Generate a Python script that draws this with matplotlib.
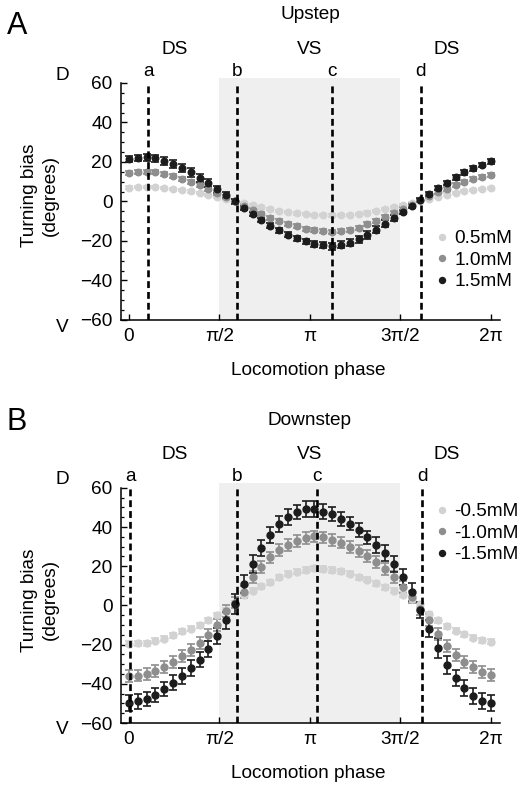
import numpy as np
import matplotlib.pyplot as plt
from matplotlib.ticker import MultipleLocator
from matplotlib.lines import Line2D

plt.rcParams['font.family'] = ['Liberation Sans', 'DejaVu Sans']
plt.rcParams['font.size'] = 13.7

W, H = 525, 790

# locomotion phase bins (42 points from 0 to 2pi)
phase = np.linspace(0, 2 * np.pi, 42)

# Upstep
up_labels = ['0.5mM', '1.0mM', '1.5mM']
up_05 = [7.0, 7.3, 7.4, 7.2, 6.9, 6.4, 5.8, 5.1, 4.3, 3.4, 2.4, 1.3, 0.2, -0.9, -2.0, -3.0, -3.9,
         -4.7, -5.4, -6.0, -6.5, -6.8, -7.0, -7.1, -7.0, -6.7, -6.2, -5.6, -4.8, -3.9, -2.9, -1.8,
         -0.7, 0.4, 1.5, 2.5, 3.5, 4.4, 5.2, 5.9, 6.4, 6.8]
up_10 = [14.4, 14.8, 15.0, 14.7, 14.0, 12.9, 11.6, 10.0, 8.2, 6.2, 4.2, 2.1, 0.0, -2.2, -4.3, -6.3,
         -8.2, -9.9, -11.4, -12.6, -13.7, -14.4, -15.0, -15.3, -15.0, -14.3, -13.2, -11.6, -9.8,
         -7.8, -5.8, -3.7, -1.6, 0.5, 2.6, 4.6, 6.5, 8.3, 10.0, 11.4, 12.6, 13.6]
up_15 = [21.4, 21.9, 22.3, 21.8, 20.6, 19.0, 17.0, 14.8, 12.0, 9.2, 6.2, 3.2, 0.0, -3.3, -6.4, -9.4,
         -12.2, -14.6, -16.8, -18.6, -20.2, -21.3, -22.1, -22.6, -22.0, -20.8, -19.2, -16.8, -14.2,
         -11.2, -8.3, -5.3, -2.3, 0.8, 3.8, 6.7, 9.5, 12.3, 14.7, 16.7, 18.5, 20.3]
up_05_err = [0.6] * 42
up_10_err = [1.0] * 42
up_15_err = [1.5, 1.5, 1.8, 1.8, 2.0, 2.0, 2.2, 2.2, 2.0, 2.0, 1.8, 1.5, 1.5, 1.2, 1.2, 1.2, 1.2,
             1.2, 1.2, 1.2, 1.2, 1.5, 1.5, 1.8, 1.8, 1.8, 1.8, 2.0, 2.0, 1.8, 1.5, 1.2, 1.0, 1.0,
             1.0, 1.0, 1.0, 1.2, 1.2, 1.2, 1.2, 1.2]
up_marks = [0.33, 1.87, 3.53, 5.06]

# Downstep
down_labels = ['-0.5mM', '-1.0mM', '-1.5mM']
down_05 = [-19.5, -19.3, -19.2, -18.1, -16.9, -15.2, -13.2, -11.8, -10.2, -7.6, -5.1, -2.5, 1.0,
           5.1, 7.6, 9.8, 11.8, 14.4, 16.1, 17.3, 18.1, 18.9, 18.6, 18.1, 17.4, 16.1, 14.4, 13.1,
           11.3, 9.3, 7.6, 5.4, 3.4, 0.5, -4.4, -7.6, -10.7, -13.0, -14.7, -16.4, -17.8, -18.6]
down_10 = [-36.0, -35.8, -35.0, -33.5, -31.3, -28.8, -25.9, -22.8, -19.1, -15.2, -9.8, -3.0, 1.5,
           6.8, 14.4, 19.8, 24.5, 28.3, 30.8, 33.0, 34.5, 35.2, 34.7, 33.5, 32.1, 29.9, 27.9, 25.4,
           22.0, 18.6, 14.4, 9.3, 4.2, -1.7, -7.6, -14.7, -20.8, -25.4, -28.8, -31.6, -33.8, -35.5]
down_15 = [-49.9, -49.0, -47.8, -45.6, -42.6, -39.4, -35.9, -31.8, -27.6, -22.3, -15.7, -7.6, 0.8,
           11.0, 21.1, 29.3, 35.9, 41.5, 45.2, 47.7, 49.1, 49.4, 47.9, 46.5, 44.3, 41.8, 38.4, 34.7,
           31.0, 26.6, 21.2, 14.4, 6.8, -2.2, -11.8, -21.6, -30.4, -37.2, -42.3, -46.2, -48.6, -49.9]
down_05_err = [1.3] * 42
down_10_err = [3.0] * 42
down_15_err = [4.0, 4.0, 3.5, 3.5, 3.5, 4.0, 4.0, 4.0, 4.0, 4.0, 4.0, 4.5, 5.0, 4.5, 4.5, 4.0, 4.0,
               4.0, 4.0, 3.5, 4.0, 4.0, 4.0, 3.5, 3.5, 3.5, 3.5, 3.5, 4.0, 4.0, 4.0, 4.0, 4.5, 4.0,
               4.5, 5.0, 4.5, 4.0, 4.0, 4.0, 4.0, 4.0]
down_marks = [0.02, 1.87, 3.26, 5.09]

colors = ['#d2d2d2', '#8e8e8e', '#1c1c1c']
tick_pos = [0, np.pi / 2, np.pi, 3 * np.pi / 2, 2 * np.pi]
tick_lab = ['0', 'π/2', 'π', '3π/2', '2π']


def fx(px):
    return px / W


def fy(py):
    return 1 - py / H


fig = plt.figure(figsize=(W / 100, H / 100), dpi=100)


def panel(top, bottom, series, errs, labels, marks, title, letter, letter_y, leg_y, ms):
    ax = fig.add_axes([fx(121), fy(bottom), fx(500) - fx(121), (bottom - top) / H])
    ax.set_xlim(-0.139, 6.44)
    ax.set_ylim(-60, 62.5)
    ax.axvspan(np.pi / 2, 3 * np.pi / 2, color='#efefef', lw=0, zorder=0)
    for s, e, c in zip(series, errs, colors):
        ax.errorbar(phase, s, yerr=e, fmt='o', color=c, ms=ms, mec=c, ecolor=c,
                    elinewidth=1.2, capsize=3.2, capthick=1.2, zorder=3)
    for x, t in zip(marks, 'abcd'):
        ax.vlines(x, -60, 60, colors='black', linestyles=(0, (2.6, 1.5)), lw=1.9, zorder=5)
        ax.text(x, 66, t, ha='center', va='center', clip_on=False)
    ax.text(0.8, 77.0, 'DS', ha='center', va='center')
    ax.text(np.pi, 77.0, 'VS', ha='center', va='center')
    ax.text(5.52, 77.0, 'DS', ha='center', va='center')
    ax.text(np.pi, 94.4, title, ha='center', va='center')

    for side in ['top', 'right']:
        ax.spines[side].set_visible(False)
    ax.spines['left'].set_bounds(-60, 60)
    ax.spines['left'].set_linewidth(1.1)
    ax.spines['bottom'].set_linewidth(1.1)
    ax.set_yticks(range(-60, 61, 20))
    ax.set_yticklabels(['\u221260', '\u221240', '\u221220', '0', '20', '40', '60'])
    ax.yaxis.set_minor_locator(MultipleLocator(5))
    ax.set_xticks(tick_pos)
    ax.set_xticklabels(tick_lab)
    ax.tick_params(which='major', direction='in', length=4, width=1, pad=6)
    ax.tick_params(which='minor', direction='in', length=2.5, width=0.9)

    handles = [Line2D([], [], ls='none', marker='o', ms=4.3, color=c) for c in colors]
    ax.legend(handles, labels, loc='upper left', bbox_to_anchor=(fx(436), fy(leg_y)),
              bbox_transform=fig.transFigure, frameon=False, handlelength=0.6,
              handletextpad=0.35, labelspacing=0.22, borderpad=0, borderaxespad=0)

    fig.text(fx(17), fy(letter_y), letter, fontsize=22, ha='center', va='center')
    fig.text(fx(40), fy(top + 117), 'Turning bias\n(degrees)', rotation=90,
             ha='center', va='center', linespacing=1.3)
    fig.text(fx(308), fy(bottom + 50), 'Locomotion phase', ha='center', va='center')
    fig.text(fx(62), fy(top - 3), 'D', ha='center', va='center')
    fig.text(fx(62), fy(bottom + 7), 'V', ha='center', va='center')
    return ax


panel(78, 320, [up_05, up_10, up_15], [up_05_err, up_10_err, up_15_err], up_labels,
      up_marks, 'Upstep', 'A', 26, 230, 4.7)
panel(483, 723, [down_05, down_10, down_15], [down_05_err, down_10_err, down_15_err],
      down_labels, down_marks, 'Downstep', 'B', 422, 503, 5.0)

fig.savefig('out.png', dpi=100)
